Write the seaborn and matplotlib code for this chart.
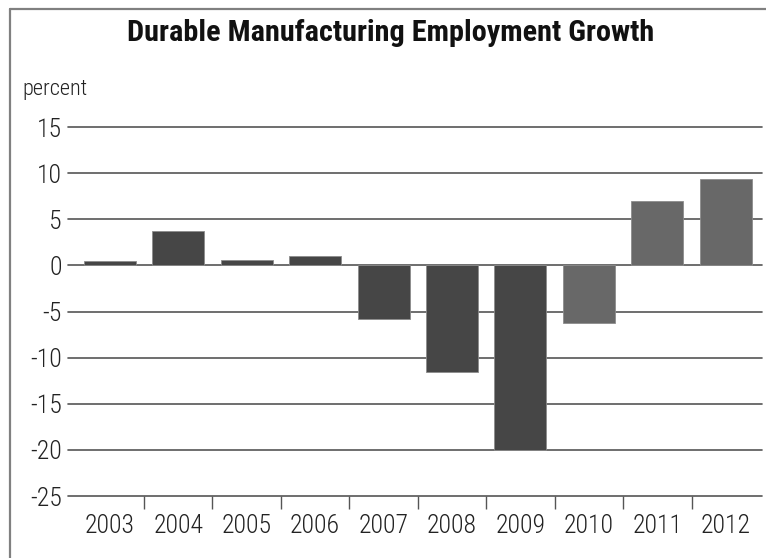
import matplotlib
matplotlib.use("Agg")
import matplotlib.pyplot as plt
from matplotlib.lines import Line2D
import seaborn as sns
import pandas as pd

# data
years = ["2003", "2004", "2005", "2006", "2007", "2008", "2009", "2010", "2011", "2012"]
growth = [0.5, 3.7, 0.6, 1.0, -5.8, -11.6, -20.0, -6.2, 7.0, 9.4]
bar_colors = ["#464646"] * 7 + ["#686868"] * 3
y_ticks = [15, 10, 5, 0, -5, -10, -15, -20, -25]

df = pd.DataFrame({"Year": years, "Growth": growth})

sns.set_style("white")
plt.rcParams["font.family"] = ["Roboto Condensed", "DejaVu Sans"]
plt.rcParams["axes.unicode_minus"] = False

fig = plt.figure(figsize=(7.66, 5.58), dpi=100)
ax = fig.add_axes([0.0888, 0.1111, 0.906, 0.6613])

sns.barplot(data=df, x="Year", y="Growth", hue="Year", palette=bar_colors,
            legend=False, width=0.76, saturation=1, ax=ax,
            edgecolor="#8c8c8c", linewidth=0.6)

ax.set_ylim(-25, 15)
ax.set_xlim(-0.61, 9.53)
ax.set_yticks(y_ticks)
ax.set_xlabel("")
ax.set_ylabel("")
for s in ax.spines.values():
    s.set_visible(False)

ax.set_axisbelow(True)
ax.yaxis.grid(True, color="#555555", linewidth=1.2)
for gl in ax.get_ygridlines():
    gl.set_clip_on(False)

# category boundary ticks under the bottom line
ax.set_xticks([i + 0.5 for i in range(len(years) - 1)], minor=True)
ax.tick_params(axis="x", which="minor", length=9, width=1.0, color="#555555",
               direction="out", bottom=True)
ax.tick_params(axis="x", which="major", length=0, pad=13, labelsize=18.5,
               labelcolor="#222222")
ax.tick_params(axis="y", length=0, pad=4.5, labelsize=18.5, labelcolor="#222222")
for lbl in ax.get_xticklabels() + ax.get_yticklabels():
    lbl.set_fontweight("light")

fig.text(0.51, 0.940, "Durable Manufacturing Employment Growth",
         ha="center", va="center", fontsize=21.8, fontweight="bold", color="#111111")
fig.text(0.029, 0.840, "percent", ha="left", va="center", fontsize=16,
         fontweight="light", color="#222222")

# outer frame (top and left edges)
fig.add_artist(Line2D([0.0125, 1.0], [0.984, 0.984], color="#808080",
                      linewidth=1.6, transform=fig.transFigure))
fig.add_artist(Line2D([0.0125, 0.0125], [0.0, 0.984], color="#808080",
                      linewidth=1.6, transform=fig.transFigure))

fig.savefig("out.png", dpi=100)
